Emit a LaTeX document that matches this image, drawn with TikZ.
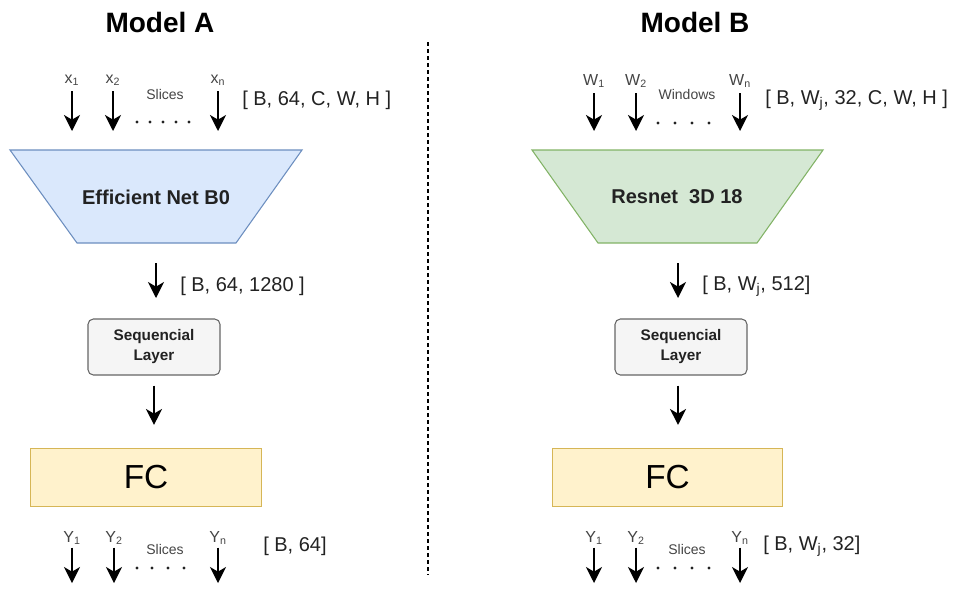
\documentclass[tikz,border=0pt]{standalone}
\usepackage{fontspec}
\setmainfont{Liberation Sans}
\usetikzlibrary{arrows.meta}
\definecolor{effFill}{HTML}{DAE8FC}
\definecolor{effDraw}{HTML}{6C8EBF}
\definecolor{resFill}{HTML}{D5E8D4}
\definecolor{resDraw}{HTML}{82B366}
\definecolor{seqFill}{HTML}{F5F5F5}
\definecolor{seqDraw}{HTML}{666666}
\definecolor{fcFill}{HTML}{FFF2CC}
\definecolor{fcDraw}{HTML}{D6B656}
\definecolor{txtdark}{HTML}{222222}
\definecolor{txtgray}{HTML}{444444}

\begin{document}
\begin{tikzpicture}[x=0.75pt,y=-0.75pt,
  title/.style={font=\fontsize{21}{25}\selectfont\bfseries},
  idx/.style={font=\fontsize{12}{14}\selectfont, text=txtgray, inner sep=1pt},
  tag/.style={font=\fontsize{10.5}{12}\selectfont, text=txtgray, inner sep=1pt},
  dims/.style={font=\fontsize{15}{18}\selectfont, text=txtdark, anchor=west, inner sep=0pt},
  arr/.style={-{Stealth[length=12pt,width=12pt,inset=3.5pt]}, line width=1.1pt},
  netname/.style={font=\fontsize{15}{18}\selectfont\bfseries, text=txtdark},
  seqbox/.style={draw=seqDraw, fill=seqFill, rounded corners=4pt, line width=0.8pt,
    minimum width=99pt, minimum height=42pt, align=center,
    font=\fontsize{11.5}{15}\selectfont\bfseries, text=txtdark},
  fcbox/.style={draw=fcDraw, fill=fcFill, line width=0.8pt,
    minimum width=173pt, minimum height=44pt, font=\fontsize{25}{30}\selectfont},
  dotfill/.style={fill=txtdark}]
\useasboundingbox (0,0) rectangle (959,589);

\node[title] (titleA) at (160,22) {Model A};
\node[title] (titleB) at (695,22) {Model B};

\coordinate (sepTop) at (428,42);
\coordinate (sepBot) at (428,575);
\draw[dash pattern=on 3pt off 2.25pt, line width=0.8pt] (sepTop) to (sepBot);

% model A
\node[idx] (xA1) at (72,80) {x\textsubscript{1}};
\node[idx] (xA2) at (113,80) {x\textsubscript{2}};
\node[idx] (xAn) at (218,80) {x\textsubscript{n}};
\node[tag] (slA) at (165,94) {Slices};
\coordinate (xA1e) at (72,131);
\coordinate (xA2e) at (113,131);
\coordinate (xAne) at (218,131);
\draw[arr, shorten <=3pt] (xA1) to (xA1e);
\draw[arr, shorten <=3pt] (xA2) to (xA2e);
\draw[arr, shorten <=3pt] (xAn) to (xAne);
\fill[dotfill] (137,122) circle (1.6) (150,122) circle (1.6) (163,122) circle (1.6)
  (176,122) circle (1.6) (189,122) circle (1.6);
\node[dims] (dimA0) at (242,100) {[ B, 64, C, W, H ]};

\draw[fill=effFill, draw=effDraw, line width=0.8pt] (10,150) -- (302,150) -- (236,243) -- (77,243) -- cycle;
\node[netname] (effA) at (156,197) {Efficient Net B0};

\coordinate (midA1) at (156,263);
\coordinate (midA2) at (156,298);
\draw[arr] (midA1) to (midA2);
\node[dims] (dimA1) at (180,286) {[ B, 64, 1280 ]};

\node[seqbox] (seqA) at (154,347) {Sequencial\\Layer};
\node[fcbox] (fcA) at (146,477.5) {FC};
\draw[arr, shorten <=7.5pt, shorten >=17pt] (seqA.south) to (seqA.south |- fcA.north);

\node[idx] (yA1) at (72,538) {Y\textsubscript{1}};
\node[idx] (yA2) at (114,538) {Y\textsubscript{2}};
\node[idx] (yAn) at (218,538) {Y\textsubscript{n}};
\node[tag] (slA2) at (165,549) {Slices};
\coordinate (yA1e) at (72,583);
\coordinate (yA2e) at (114,583);
\coordinate (yAne) at (218,583);
\draw[arr, shorten <=1pt] (yA1) to (yA1e);
\draw[arr, shorten <=1pt] (yA2) to (yA2e);
\draw[arr, shorten <=1pt] (yAn) to (yAne);
\fill[dotfill] (137,568) circle (1.6) (152,568) circle (1.6) (168,568) circle (1.6)
  (184,568) circle (1.6);
\node[dims] (dimA2) at (263,546) {[ B, 64]};

% model B
\node[idx] (wB1) at (594,81) {W\textsubscript{1}};
\node[idx] (wB2) at (636,81) {W\textsubscript{2}};
\node[idx] (wBn) at (740,81) {W\textsubscript{n}};
\node[tag] (winB) at (687,94) {Windows};
\coordinate (wB1e) at (594,131);
\coordinate (wB2e) at (636,131);
\coordinate (wBne) at (740,131);
\draw[arr, shorten <=3pt] (wB1) to (wB1e);
\draw[arr, shorten <=3pt] (wB2) to (wB2e);
\draw[arr, shorten <=3pt] (wBn) to (wBne);
\fill[dotfill] (658,123) circle (1.6) (675,123) circle (1.6) (692,123) circle (1.6)
  (709,123) circle (1.6);
\node[dims] (dimB0) at (765,100) {[ B, W\textsubscript{j}, 32, C, W, H ]};

\draw[fill=resFill, draw=resDraw, line width=0.8pt] (532,150) -- (823,150) -- (757,243) -- (598,243) -- cycle;
\node[netname] (resB) at (677,197) {Resnet\ \ 3D 18};

\coordinate (midB1) at (678,263);
\coordinate (midB2) at (678,298);
\draw[arr] (midB1) to (midB2);
\node[dims] (dimB1) at (702,286) {[ B, W\textsubscript{j}, 512]};

\node[seqbox] (seqB) at (681,347) {Sequencial\\Layer};
\node[fcbox] (fcB) at (667.5,477.5) {FC};
\draw[arr, shorten <=7.5pt, shorten >=17pt] (seqB.south -| midB1) to (midB1 |- fcB.north);

\node[idx] (yB1) at (594,538) {Y\textsubscript{1}};
\node[idx] (yB2) at (636,538) {Y\textsubscript{2}};
\node[idx] (yBn) at (740,538) {Y\textsubscript{n}};
\node[tag] (slB) at (687,549) {Slices};
\coordinate (yB1e) at (594,583);
\coordinate (yB2e) at (636,583);
\coordinate (yBne) at (740,583);
\draw[arr, shorten <=1pt] (yB1) to (yB1e);
\draw[arr, shorten <=1pt] (yB2) to (yB2e);
\draw[arr, shorten <=1pt] (yBn) to (yBne);
\fill[dotfill] (658,568) circle (1.6) (675,568) circle (1.6) (692,568) circle (1.6)
  (709,568) circle (1.6);
\node[dims] (dimB2) at (763,546) {[ B, W\textsubscript{j}, 32]};
\end{tikzpicture}
\end{document}
